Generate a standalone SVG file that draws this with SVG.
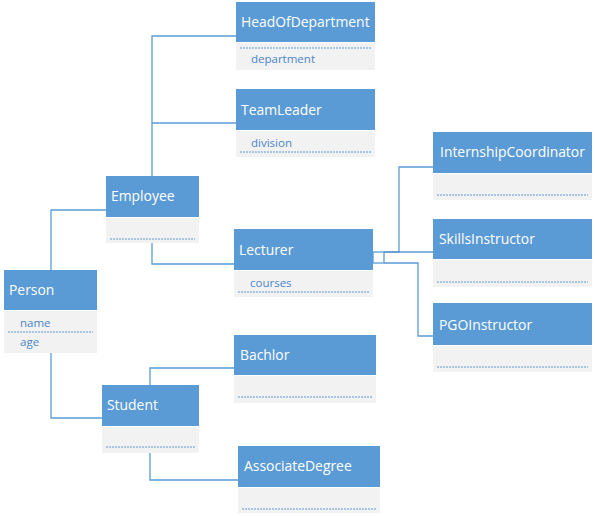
<svg xmlns="http://www.w3.org/2000/svg" width="595" height="516" viewBox="0 0 595 516">
<style>
.hd{fill:#5b9bd5}
.bd{fill:#f2f2f2}
.t{font-family:"Open Sans",sans-serif;font-size:13.9px;fill:#ffffff}
.a{font-family:"Open Sans",sans-serif;font-size:11.5px;fill:#4a86c8}
.dot{stroke:#5b9bd5;stroke-width:1;stroke-dasharray:2 1;fill:none}
.c{stroke:#5b9bd5;stroke-width:1.3;fill:none}
</style>
<rect width="595" height="516" fill="#ffffff"/>
<g id="connectors">
<polyline class="c" points="51,270 51,210 106,210"/>
<polyline class="c" points="51,353 51,418 102,418"/>
<polyline class="c" points="152,176 152,36 236,36"/>
<polyline class="c" points="152,123 236,123"/>
<polyline class="c" points="152,243 152,264 234,264"/>
<rect class="c" x="373" y="252" width="11" height="11"/>
<polyline class="c" points="384,252 399,252 399,167 433,167"/>
<polyline class="c" points="384,252 433,252"/>
<polyline class="c" points="384,263 418,263 418,336 433,336"/>
<polyline class="c" points="150,385 150,368 234,368"/>
<polyline class="c" points="150,453 150,480 238,480"/>
</g>
<g id="Person">
<rect class="hd" x="4" y="270" width="93" height="40"/>
<rect class="bd" x="4" y="311" width="93" height="42"/>
<text class="t" x="9" y="295">Person</text>
<text class="a" x="20" y="327">name</text>
<line class="dot" x1="8" y1="332" x2="93" y2="332"/>
<text class="a" x="20" y="346">age</text>
</g>
<g id="Employee">
<rect class="hd" x="106" y="176" width="93" height="41"/>
<rect class="bd" x="106" y="218" width="93" height="25"/>
<text class="t" x="111" y="201">Employee</text>
<line class="dot" x1="110" y1="239" x2="195" y2="239"/>
</g>
<g id="HeadOfDepartment">
<rect class="hd" x="236" y="2" width="139" height="40"/>
<rect class="bd" x="236" y="43" width="139" height="27"/>
<text class="t" x="241" y="27">HeadOfDepartment</text>
<line class="dot" x1="240" y1="48" x2="371" y2="48"/>
<text class="a" x="251" y="63">department</text>
</g>
<g id="TeamLeader">
<rect class="hd" x="236" y="89" width="139" height="41"/>
<rect class="bd" x="236" y="131" width="139" height="26"/>
<text class="t" x="241" y="115">TeamLeader</text>
<text class="a" x="251" y="147">division</text>
<line class="dot" x1="240" y1="152" x2="371" y2="152"/>
</g>
<g id="Lecturer">
<rect class="hd" x="234" y="229" width="139" height="41"/>
<rect class="bd" x="234" y="271" width="139" height="26"/>
<text class="t" x="239" y="255">Lecturer</text>
<text class="a" x="250" y="287">courses</text>
<line class="dot" x1="238" y1="292" x2="369" y2="292"/>
</g>
<g id="InternshipCoordinator">
<rect class="hd" x="433" y="132" width="159" height="41"/>
<rect class="bd" x="433" y="174" width="159" height="26"/>
<text class="t" x="440" y="157">InternshipCoordinator</text>
<line class="dot" x1="437" y1="195" x2="588" y2="195"/>
</g>
<g id="SkillsInstructor">
<rect class="hd" x="433" y="219" width="159" height="40"/>
<rect class="bd" x="433" y="260" width="159" height="27"/>
<text class="t" x="439" y="244">SkillsInstructor</text>
<line class="dot" x1="437" y1="282" x2="588" y2="282"/>
</g>
<g id="PGOInstructor">
<rect class="hd" x="433" y="303" width="159" height="42"/>
<rect class="bd" x="433" y="346" width="159" height="26"/>
<text class="t" x="439" y="330">PGOInstructor</text>
<line class="dot" x1="437" y1="367" x2="588" y2="367"/>
</g>
<g id="Bachlor">
<rect class="hd" x="234" y="335" width="142" height="40"/>
<rect class="bd" x="234" y="376" width="142" height="27"/>
<text class="t" x="240" y="360">Bachlor</text>
<line class="dot" x1="238" y1="397" x2="372" y2="397"/>
</g>
<g id="Student">
<rect class="hd" x="102" y="385" width="97" height="41"/>
<rect class="bd" x="102" y="427" width="97" height="26"/>
<text class="t" x="107" y="410">Student</text>
<line class="dot" x1="106" y1="447" x2="195" y2="447"/>
</g>
<g id="AssociateDegree">
<rect class="hd" x="238" y="446" width="142" height="41"/>
<rect class="bd" x="238" y="488" width="142" height="25"/>
<text class="t" x="244" y="471">AssociateDegree</text>
<line class="dot" x1="242" y1="509" x2="376" y2="509"/>
</g>
</svg>
